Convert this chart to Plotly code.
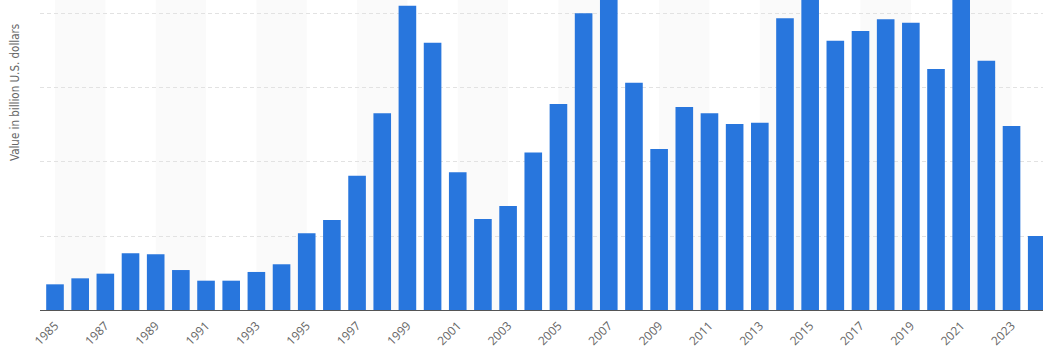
import plotly.graph_objects as go

# Annual transaction value, billion U.S. dollars
years = list(range(1985, 2025))
values = [
    34.7, 42.8, 49.1, 76.6, 75.3, 54.0, 39.6, 39.6, 51.4, 61.8,
    103.6, 121.6, 181.5, 265.8, 411.2, 361.2, 186.1, 123.0, 140.5, 212.8,
    278.4, 400.9, 450.0, 307.2, 217.6, 274.3, 265.8, 251.4, 253.1, 394.2,
    470.0, 363.9, 377.0, 392.8, 388.2, 325.7, 520.0, 336.9, 248.6, 100.0,
]
tick_years = list(range(1985, 2024, 2))
tick_labels = [str(y) for y in tick_years]
y_title = "Value in billion U.S. dollars"

BAR_COLOR = "#2876dd"

fig = go.Figure()
fig.add_trace(go.Bar(
    x=years,
    y=values,
    width=0.7,
    marker=dict(color=BAR_COLOR, line=dict(width=0)),
    hovertemplate="%{x}: %{y:.1f} bn USD<extra></extra>",
))

# faint alternating background bands, two years wide every four years
shapes = []
for start in range(1985, 2025, 4):
    shapes.append(dict(
        type="rect", xref="x", yref="paper",
        x0=start, x1=start + 2, y0=0, y1=1,
        fillcolor="#fafafa", line=dict(width=0), layer="below",
    ))

fig.update_layout(
    width=1043,
    height=359,
    margin=dict(l=40, r=0, t=0, b=49),
    paper_bgcolor="white",
    plot_bgcolor="white",
    showlegend=False,
    bargap=0.3,
    shapes=shapes,
    font=dict(family="Open Sans, sans-serif", color="#666666"),
    annotations=[dict(
        text=y_title,
        xref="paper", yref="paper",
        x=-0.0249, y=0.70,
        xanchor="center", yanchor="middle",
        textangle=-90,
        showarrow=False,
        font=dict(family="DejaVu Sans Condensed, Liberation Sans Narrow, sans-serif",
                  size=11.5, color="#666666"),
    )],
)

fig.update_xaxes(
    type="linear",
    range=[1984.404, 2024.25],
    tickmode="array",
    tickvals=tick_years,
    ticktext=tick_labels,
    tickangle=-45,
    tickfont=dict(size=12, color="#666666"),
    ticks="outside",
    ticklen=3,
    tickcolor="rgba(0,0,0,0)",
    showgrid=False,
    zeroline=False,
    showline=True,
    linecolor="#555555",
    linewidth=1,
)

fig.update_yaxes(
    range=[0, 418.9],
    dtick=100,
    showticklabels=False,
    ticks="",
    showgrid=True,
    gridcolor="#e2e2e2",
    gridwidth=1,
    griddash="4px,3px",
    zeroline=False,
    showline=False,
)

fig.write_html("out.html")
